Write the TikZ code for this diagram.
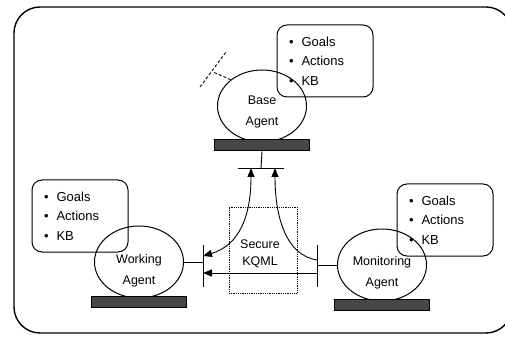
\documentclass[tikz,border=0pt]{standalone}
\usepackage{fontspec}
\setmainfont{Liberation Sans}
\usepackage{tikz}
\usetikzlibrary{arrows.meta,positioning,shapes.geometric}

\tikzset{
  agent/.style={draw,ellipse,line width=1pt,minimum width=89pt,minimum height=72pt,inner sep=0pt},
  agentname/.style={align=center,inner sep=0pt,font=\fontsize{12.5}{21}\selectfont},
  agentbar/.style={draw,fill=black!72,minimum width=95pt,minimum height=11pt,inner sep=0pt},
  kbbox/.style={draw,rounded corners=10pt,line width=1pt,minimum height=72pt,text width=72pt,
    inner xsep=12pt,align=left,font=\fontsize{13}{19.5}\selectfont},
  tip/.style={-{Triangle[length=9pt,width=7pt]}},
}

\newcommand{\kbitems}{\textbullet\hspace{8pt}Goals\\\textbullet\hspace{8pt}Actions\\\textbullet\hspace{8pt}KB}

\begin{document}
\begin{tikzpicture}[x=1pt,y=1pt,line width=0.9pt]
  \clip (0,0) rectangle (505,340); % 画像の範囲
  \draw[line width=1.4pt,rounded corners=26pt] (14,7) rectangle (512,333); % 外枠

  % エージェント
  \node[agent] (base) at (262,234) {};
  \node[agent] (work) at (139,78) {};
  \node[agent] (mon) at (382,75) {};
  \node[agentname] (basetxt) at ([yshift=-6pt]base.center) {Base\\Agent};
  \node[agentname] (worktxt) at ([yshift=-9pt]work.center) {Working\\Agent};
  \node[agentname] (montxt) at ([yshift=-8pt]mon.center) {Monitoring\\Agent};
  \node[agentbar,below=-3pt of base] (basebar) {};
  \node[agentbar,below=-3pt of work] (workbar) {};
  \node[agentbar,below=-3pt of mon] (monbar) {};

  % Goals / Actions / KB
  \node[kbbox] (basekb) at (325,279) {\kbitems};
  \node[kbbox] (workkb) at (80,124) {\kbitems};
  \node[kbbox] (monkb) at (445,120) {\kbitems};

  % Secure KQML
  \node[draw,densely dotted,line width=0.8pt,minimum width=68pt,minimum height=86pt] (kqml) at (263,90) {};
  \node[align=center,inner sep=0pt,font=\fontsize{12.5}{17}\selectfont] (kqmltxt) at (260,86) {Secure\\KQML};

  % 接続点
  \coordinate (btee) at (261,172);
  \coordinate (wtee) at (203,78);
  \coordinate (mtee) at (317,75);
  \coordinate (stub) at (213,268);
  \coordinate (stubA) at (200,253);
  \coordinate (stubB) at (226,288);

  \draw (basebar.south) -- (btee); % ベースからの縦線
  \draw ([xshift=-23pt]btee) -- ([xshift=23pt]btee); % ベース側のT
  \draw (work.east) -- (wtee); % 作業エージェント側
  \draw ([yshift=17pt]wtee) -- ([yshift=-25pt]wtee);
  \draw (mon.west) -- (mtee); % 監視エージェント側
  \draw ([yshift=20pt]mtee) -- ([yshift=-22pt]mtee);
  \draw[dashed,dash pattern=on 3pt off 2pt] (base.140) -- (stub); % 点線の枝
  \draw[dashed,dash pattern=on 3pt off 2pt] (stubA) -- (stubB);

  % メッセージの矢印
  \draw[{Triangle[length=9pt,width=7pt]}-{Triangle[length=9pt,width=7pt]}]
    ([yshift=6pt]wtee) .. controls (240,95) and (251,125) .. ([xshift=-10pt]btee);
  \draw[tip] ([yshift=5pt]mtee) .. controls (285,85) and (275,125) .. ([xshift=14pt]btee);
  \draw[tip] ([yshift=-8pt]mtee) -- ([yshift=-8pt]mtee -| wtee);
\end{tikzpicture}
\end{document}
